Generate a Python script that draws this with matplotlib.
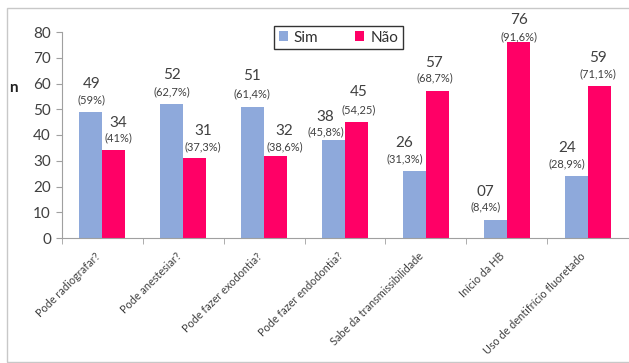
import matplotlib
matplotlib.use("Agg")
import matplotlib.pyplot as plt
import numpy as np
from matplotlib.patches import Rectangle

categories = ["Pode radiografar?", "Pode anestesiar?", "Pode fazer exodontia?",
              "Pode fazer endodontia?", "Sabe da transmissibilidade", "Início da HB",
              "Uso de dentifrício fluoretado"]
sim_values = [49, 52, 51, 38, 26, 7, 24]
nao_values = [34, 31, 32, 45, 57, 76, 59]
sim_labels = ["49", "52", "51", "38", "26", "07", "24"]
nao_labels = ["34", "31", "32", "45", "57", "76", "59"]
sim_pct = ["(59%)", "(62,7%)", "(61,4%)", "(45,8%)", "(31,3%)", "(8,4%)", "(28,9%)"]
nao_pct = ["(41%)", "(37,3%)", "(38,6%)", "(54,25)", "(68,7%)", "(91,6%)", "(71,1%)"]
yticks = [0, 10, 20, 30, 40, 50, 60, 70, 80]

# label placement offsets (pixels from bar top centre): number dy, percentage dy, dx
sim_num_dy = [28, 29, 31, 23, 28, 28, 28]
sim_pct_dy = [12, 12, 13, 8, 12, 13, 12]
sim_dx = [1, 0, -1, -8, -10, -10, -9]
nao_num_dy = [27.5, 27, 25, 30, 28, 22, 28]
nao_pct_dy = [12.5, 11, 9, 12, 13, 5.5, 12]
nao_dx = [4, 8, 9, 2, -3, 1, -1]

plt.rcParams['font.family'] = ['Lato', 'DejaVu Sans']

W, H = 629, 363
PX = 72 / 100  # pixels -> points
fig = plt.figure(figsize=(W / 100, H / 100), dpi=100)
fig.patch.set_facecolor("white")

# outer border
fig.add_artist(Rectangle((7 / W, 1 - 362 / H), 1.2, (362 - 8) / H,
                         transform=fig.transFigure, fill=False,
                         edgecolor="#c8c8c8", linewidth=1.0))

ax = fig.add_axes([62 / W, 1 - 238 / H, (628 - 62) / W, (238 - 32) / H])

blue = "#8EA9DB"
pink = "#FF0066"
x = np.arange(len(categories))
bw = 0.285
ax.bar(x - bw / 2, sim_values, bw, color=blue, label="Sim")
ax.bar(x + bw / 2, nao_values, bw, color=pink, label="Não")

txtc = "#404040"


def put_labels(xs, vals, labs, pcts, ndy, pdy, dxs):
    for xi, v, lab, p, a, b, dx in zip(xs, vals, labs, pcts, ndy, pdy, dxs):
        ax.annotate(p, (xi, v), xytext=(dx * PX, b * PX), textcoords="offset points",
                    ha="center", va="center", fontsize=8, color=txtc)
        ax.annotate(lab, (xi, v), xytext=(dx * PX, a * PX), textcoords="offset points",
                    ha="center", va="center", fontsize=11, color=txtc)


put_labels(x - bw / 2, sim_values, sim_labels, sim_pct, sim_num_dy, sim_pct_dy, sim_dx)
put_labels(x + bw / 2, nao_values, nao_labels, nao_pct, nao_num_dy, nao_pct_dy, nao_dx)

ax.set_xlim(-0.5, len(categories) - 0.5)
ax.set_ylim(0, 80)
ax.set_yticks(yticks)
ax.tick_params(axis="y", labelsize=11, colors="#a0a0a0", labelcolor=txtc,
               length=4, direction="out", pad=4)
ax.set_xticks(x)
ax.set_xticklabels(categories, rotation=45, ha="right", fontsize=7.8, color=txtc)
ax.tick_params(axis="x", length=0, pad=9)
ax.set_xticks(np.arange(len(categories)) - 0.5, minor=True)
ax.tick_params(axis="x", which="minor", length=4, color="#a0a0a0", direction="out")

for s in ["top", "right"]:
    ax.spines[s].set_visible(False)
for s in ["left", "bottom"]:
    ax.spines[s].set_color("#a0a0a0")
    ax.spines[s].set_linewidth(0.8)

fig.text(13 / W, 1 - 88 / H, "n", fontsize=11, fontweight="bold",
         ha="center", va="center", color="#202020")

leg = ax.legend(loc="center", bbox_to_anchor=((338.5 - 62) / (628 - 62), (238 - 37.5) / (238 - 32)),
                ncol=2, fontsize=11, frameon=True, fancybox=False,
                handlelength=0.6, handleheight=0.6, handletextpad=0.4,
                columnspacing=2.4, borderpad=0.3, borderaxespad=0,
                labelcolor="#303030")
leg.get_frame().set_edgecolor("#000000")
leg.get_frame().set_linewidth(1.0)

fig.savefig("out.png", dpi=100, facecolor="white")
